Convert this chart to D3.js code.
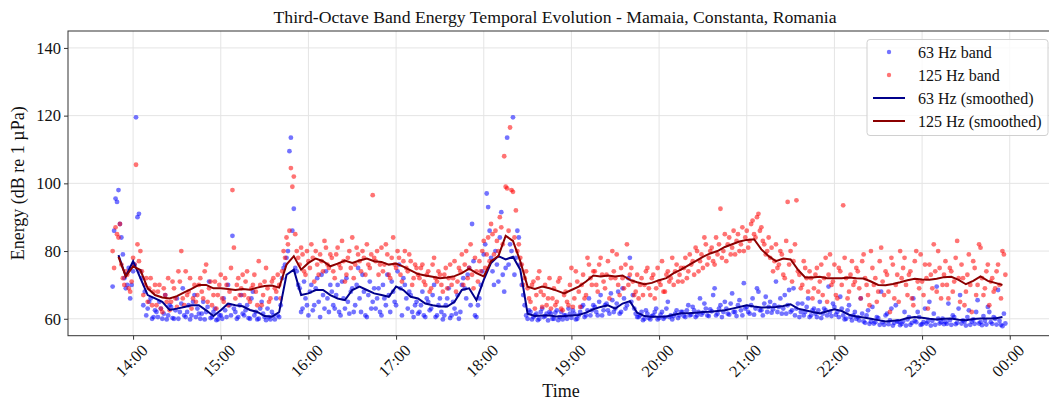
<!DOCTYPE html>
<html>
<head>
<meta charset="utf-8">
<script src="https://cdn.jsdelivr.net/npm/d3@7"></script>
<style>
  body { margin: 0; background: #fff; }
  svg { display: block; font-family: "Liberation Serif", "Times New Roman", serif; }
</style>
</head>
<body>
<svg id="chart" width="1049" height="402"></svg>
<script>
// scatter samples: one value per minute, starting 13:46 (each row = 30 min)
var scatterStart = "13:46";
var scatterStepMin = 1;

var band63 = [
  69.5, 86, 95.5, 94.5, 98, 88, 84, 79, 72, 69, 70, 75, 66, 70, 74, 76, 119.5, 90, 91, 74, 72, 64, 68, 61, 63, 65, 66, 60, 60.5, 62.5,
  62, 60.5, 65, 63, 60, 61.5, 67, 59.8, 61, 64, 63.5, 60.2, 60, 62.5, 66, 60, 62, 64.5, 69, 61, 60.5, 62, 64, 59.8, 61, 65, 67, 60.5, 63, 61.5,
  60, 61.5, 65, 59.8, 62, 63.5, 71, 60.2, 60.5, 62, 63, 59.6, 59.8, 61, 61, 60, 66, 62.5, 60.5, 70, 64, 61, 84.5, 63, 62, 60, 60.5, 64, 67, 61.5,
  61, 62.5, 64, 60.2, 60, 66, 68, 61, 62, 59.8, 60, 63, 65, 61.5, 60.5, 59.6, 63, 60.5, 59.8, 62, 61, 59.8, 66, 61, 60.5, 64, 72, 75, 76, 78,
  80, 109.5, 113.5, 86, 92.5, 75, 74, 70, 69, 62, 63, 71, 66, 64, 61, 68, 70, 62.5, 64, 69, 72, 65, 60.5, 73, 67, 63, 74, 66, 62, 70,
  68, 64, 63, 67, 70, 62, 61, 71, 66, 63, 72, 65, 61.5, 68, 69, 62, 64, 70, 75, 66, 62, 73, 68, 61, 60.5, 67, 71, 63, 65, 69,
  63, 66, 69, 62, 61, 70, 66, 64, 73, 67, 62, 71, 68, 65, 64, 74, 76, 69, 61, 72, 70, 66, 63, 68, 67, 62, 60.5, 64, 65, 61.5,
  62, 64, 68, 61, 60.5, 66, 65, 62.5, 63, 67, 70, 60.5, 61, 64, 66, 62, 59.8, 61, 64, 66, 69, 60.2, 61, 65, 63, 61.5, 67, 60, 62, 70,
  72, 69, 66, 73, 75, 64, 88, 77, 61, 60.5, 64, 66, 70, 74, 79, 82, 97, 93, 86, 78, 74, 70, 80, 76, 71, 84, 91.5, 73, 68, 75,
  113.5, 76, 82, 80, 119.5, 73, 78, 86, 84, 76, 70, 67, 64, 61, 60, 62.5, 62, 59.8, 60.5, 61, 61.5, 59.6, 60, 62, 63, 60.5, 60.8, 61.5, 59.5, 62,
  61.5, 60, 60, 61.8, 62.5, 59.6, 60.5, 62, 59.8, 61, 61, 60, 63, 61.5, 60.3, 62.5, 61.5, 59.8, 60, 61, 62, 63.5, 64, 60.5, 61, 62.5, 66, 61, 62.5, 64,
  63.5, 62, 61, 65, 67, 61, 62.5, 64, 64.5, 62.5, 61.5, 67.5, 65.5, 62, 63, 64.5, 68, 61.5, 62, 69, 66, 63, 64, 72, 78, 65, 67, 63, 61.5, 60.5,
  60.5, 61, 62, 59.6, 60, 62.5, 61.5, 60.2, 59.8, 60.8, 61, 62, 63, 59.8, 60.2, 61.2, 62, 60, 60.5, 63, 65, 60.5, 61, 59.8, 60.8, 61.5, 62.5, 60.2, 61, 62,
  62, 60.8, 60.5, 62.5, 64, 61, 61.2, 63.5, 62.5, 60.5, 61, 62, 66, 61.2, 61.8, 64.5, 63, 61, 60.8, 62.8, 62.2, 67, 69, 61, 61.5, 63, 64, 60.5, 62, 65,
  63, 61.5, 61.2, 64.5, 67.5, 62, 62, 60.8, 64, 65.5, 62.5, 61, 70.5, 63, 63.5, 62, 61.5, 64, 66, 61.2, 63, 69, 68, 62.5, 62.5, 61, 64.5, 66.5, 62, 63.5,
  65, 61.8, 62.8, 64, 71, 62, 63.5, 66, 61.5, 63, 67, 61.5, 64, 68.5, 62, 62.5, 69, 61, 63, 64.5, 60.5, 62, 64.5, 61, 62, 63.5, 66, 60.5, 61, 62.5,
  63, 61.5, 60.5, 62.5, 65, 60.2, 61.5, 63, 62.5, 61, 69.5, 62, 60.8, 64.5, 63.5, 61.2, 62, 60.5, 66.5, 63, 61, 59.8, 60, 62.5, 64, 60.5, 59.5, 61, 62, 60,
  60.5, 59.5, 66, 61.5, 59.2, 58.8, 61, 62.5, 58.5, 59.2, 63.5, 58.6, 59, 60.5, 60.2, 58.2, 68, 59, 58.2, 61, 61.5, 58.4, 59.5, 63, 58, 58.8, 64, 59.2, 59.2, 58.1,
  58.5, 59.2, 62, 58, 59.8, 60.5, 58.2, 58.8, 66, 59.4, 59, 62, 60.5, 58.2, 58.4, 59, 63, 58.6, 59.2, 65, 58, 59.4, 61.5, 58.2, 69.5, 60, 58.6, 59, 60, 58.4,
  59, 58.5, 64.5, 59.6, 58.2, 61, 60.5, 58.4, 58.8, 63, 67, 58.6, 59.5, 59.2, 58, 60.5, 62.5, 58.2, 59.2, 59.8, 58.5, 62, 65.5, 58.6, 59, 58.1, 60.8, 59.4, 58.3, 63.5,
  62, 59, 58.5, 60.5, 60, 58.3, 68.5, 59.4, 58.2, 57.8, 61.5, 58.6
];

var band125 = [
  80, 75, 87, 85, 84, 88, 76, 72, 70, 74, 73, 69, 68, 71, 78, 76, 105.5, 82, 77, 80, 74, 67, 70, 72, 65, 69, 72, 64, 68, 70,
  64, 68, 70, 63, 62, 69, 67, 65, 72, 62.5, 65, 71, 69, 66, 63.5, 74, 71, 80, 66, 64, 74, 67, 68, 72, 63, 66, 70, 65, 67, 70,
  72, 68, 66, 74, 76, 65, 69, 71, 64, 67, 71, 63, 67, 70, 73, 66, 65, 72, 70, 64, 68, 75, 98, 81, 66, 70, 72, 67, 69, 73,
  67, 71, 74, 66, 65, 69, 70, 73, 68, 64, 77, 70, 64, 67, 71, 75, 69, 65, 66, 71, 72, 69, 68, 73, 70, 66, 74, 80, 78, 84,
  82, 86, 104.5, 99, 102, 85, 80, 78, 76, 81, 79, 74, 73, 80, 77, 75, 82, 78, 71, 80, 76, 73, 79, 77, 74, 83, 81, 76, 75, 79,
  78, 74, 72, 79, 81, 76, 75, 83, 77, 71, 73, 78, 80, 75, 84, 72, 76, 81, 79, 77, 74, 80, 78, 73, 82, 76, 75, 79, 96.5, 78,
  77, 80, 73, 76, 81, 74, 76, 82, 79, 73, 72, 78, 84, 76, 75, 80, 78, 73, 71, 77, 80, 75, 74, 79, 77, 70, 72, 76, 75, 73,
  72, 75, 76, 71, 70, 73, 74, 68, 69, 76, 78, 72, 71, 74, 73, 70, 68, 73, 75, 69, 72, 76, 70, 72, 77, 68, 71, 75, 74, 79,
  70, 76, 80, 72, 75, 82, 73, 69, 78, 74, 71, 77, 74, 80, 83, 75, 79, 84, 77, 88, 85, 79, 86, 83, 80, 90, 87, 82, 108, 99,
  98.5, 86, 116.5, 98, 97.5, 84, 92, 80, 82, 78, 76, 70, 72, 74, 69, 66, 65, 70, 71, 63, 67, 72, 74, 68, 63.5, 67, 70, 64, 66, 72,
  63, 66, 69, 64, 65, 71, 72, 63, 62.5, 67, 68, 65, 64, 70, 75, 63.5, 66, 74, 71, 68, 63.5, 70, 73, 66, 67, 78, 76, 72, 70, 74,
  74, 70, 68, 76, 78, 73, 71, 69, 73, 77, 66, 72, 80, 74, 72, 79, 70, 67, 75, 72, 69, 76, 82, 70, 73, 75, 71, 67, 68, 73,
  66, 70, 72, 67, 70, 74, 75, 69, 67, 72, 73, 66, 69, 75, 71, 70, 77, 68, 68, 73, 74, 71, 72, 78, 70, 74, 76, 71, 73, 75,
  71, 75, 78, 72, 74, 79, 76, 77, 73, 81, 80, 74, 77, 79, 75, 84, 82, 76, 78, 80, 81, 77, 76, 84, 79, 82, 92.5, 78, 80, 85,
  77, 82, 84, 79, 81, 86, 79, 83, 85, 80, 82, 87, 80, 84, 86, 81, 83, 88, 89, 85, 84, 90, 91, 86, 87, 83, 82, 79, 80, 84,
  78, 81, 74, 77, 82, 75, 76, 80, 79, 73, 72, 83, 94.5, 76, 80, 71, 77, 82, 95, 74, 73, 69, 70, 77, 75, 72, 68, 74, 72, 66,
  69, 73, 75, 68, 71, 76, 67, 72, 78, 65, 73, 79, 70, 71, 76, 67, 66, 75, 74, 70, 93.5, 78, 72, 66, 68, 73, 77, 70, 71, 75,
  74, 69, 66, 77, 79, 72, 70, 67, 64, 80, 75, 70, 72, 65, 68, 77, 81, 71, 67, 74, 73, 68, 62, 78, 76, 66, 70, 73, 65, 80,
  72, 75, 78, 70, 67, 73, 74, 66, 64, 77, 80, 71, 69, 79, 71, 67, 76, 72, 63, 76, 73, 69, 82, 74, 68, 80, 75, 66, 70, 73,
  77, 70, 66, 75, 74, 68, 71, 78, 83, 72, 65, 76, 72, 64, 68, 73, 79, 70, 62, 77, 75, 67, 70, 82, 81, 72, 67, 69, 74, 76,
  64, 71, 72, 68, 69, 74, 76, 70, 66, 80, 79, 73
];

// smoothed curves: one value every 5 minutes, starting 13:50
var smoothStart = "13:50";
var smoothStepMin = 5;

var smooth63 = [
  78.8, 72.5, 77, 72, 67, 66, 65, 62.6, 63, 63.5, 64, 64,
  62.5, 60.8, 62.5, 64.5, 64, 63.7, 62.6, 62, 60.8, 60.6, 62, 73,
  74.5, 67, 67.5, 68.5, 68.5, 67, 66, 65.5, 68.5, 69.5, 68.5, 67.5,
  67, 66.5, 69.5, 68.5, 66.5, 66, 64.5, 64, 63.6, 63.6, 65, 68.5,
  69, 65.5, 71.5, 76.5, 78.5, 77.5, 78.3, 74.5, 61.5, 60.8, 61, 61,
  60.7, 60.8, 61, 61.1, 61.8, 62.8, 63.5, 64, 63, 64.5, 65.2, 61.8,
  60.8, 60.6, 60.6, 60.7, 61.2, 61.6, 61.6, 61.8, 62, 62.1, 62.3, 62.5,
  63, 63.5, 64, 63.6, 63.3, 63.4, 63.5, 63.8, 64.3, 63, 62.5, 62,
  61.6, 62.2, 62.8, 62.3, 61.2, 60.7, 60.4, 60, 59.6, 59.2, 59.4, 59.6,
  60.2, 60.5, 60.3, 60, 59.8, 60, 60.1, 59.7, 59.6, 59.9, 60.1, 60.1,
  60.1, 60.5
];

var smooth125 = [
  78.3, 72.5, 75.5, 74.4, 69, 67, 66.3, 66, 66.7, 67.8, 68.8, 70,
  70, 69, 69, 68.8, 68.5, 68.8, 68.6, 69.2, 69.7, 69.8, 69.2, 76,
  78.5, 74.5, 76.5, 77.8, 77, 75.5, 76.3, 77.2, 76.5, 77.2, 77.8, 77,
  76.8, 76, 76.3, 75.4, 74.3, 73.2, 72.8, 72.4, 72, 72.2, 72.6, 73.5,
  74.8, 73.5, 72.5, 77, 78.5, 84.5, 83, 77, 69.5, 68.8, 69.5, 69,
  68.3, 67.5, 68.5, 69.5, 71, 72.8, 72.5, 72.8, 72.5, 72.8, 71.5, 70.8,
  70.2, 70.6, 71.4, 72, 73.5, 74.5, 75.8, 77, 78.3, 79.3, 80, 81.2,
  82, 82.8, 83.3, 83.5, 80.5, 78.5, 77, 77.8, 77.5, 74.5, 72.2, 72.2,
  72.4, 72, 72, 72, 72.2, 72, 71.9, 71, 70, 69.9, 70.3, 70.8,
  71.4, 71.8, 71.6, 71.5, 71.8, 72.3, 72.4, 71.5, 70.2, 71.2, 72.5, 71.2,
  70.6, 70
];

var yTicks = [60, 80, 100, 120, 140];
var titleText = "Third-Octave Band Energy Temporal Evolution - Mamaia, Constanta, Romania";

var parseHM = d3.timeParse("%Y-%m-%d %H:%M");
function seriesTimes(start, step, n) {
  var t0 = parseHM("2024-06-01 " + start);
  return d3.range(n).map(function(i){ return d3.timeMinute.offset(t0, i * step); });
}

var tScatter = seriesTimes(scatterStart, scatterStepMin, band63.length);
var tSmooth = seriesTimes(smoothStart, smoothStepMin, smooth63.length);

var pts63 = band63.map(function(v,i){ return {t: tScatter[i], v: v}; });
var pts125 = band125.map(function(v,i){ return {t: tScatter[i], v: v}; });
var line63 = smooth63.map(function(v,i){ return {t: tSmooth[i], v: v}; });
var line125 = smooth125.map(function(v,i){ return {t: tSmooth[i], v: v}; });

var pL = 68, pR = 1050, pT = 31, pB = 335.7;

// matplotlib-like 5% margin around the data
var ext = d3.extent(tScatter);
var pad = (ext[1] - ext[0]) * 0.05;
var x = d3.scaleTime()
  .domain([new Date(+ext[0] - pad), new Date(+ext[1] + pad)])
  .range([pL, pR]);
var y = d3.scaleLinear().domain([55, 145]).range([pB, pT]);

var svg = d3.select("#chart");

var xTickVals = d3.timeHour.range(d3.timeHour.ceil(x.domain()[0]), x.domain()[1]);

// grid
var grid = svg.append("g");
grid.selectAll(".gx").data(xTickVals).enter().append("line")
  .attr("x1", function(d){ return x(d); }).attr("x2", function(d){ return x(d); })
  .attr("y1", pT).attr("y2", pB)
  .attr("stroke", "#e4e4e4").attr("stroke-width", 1);
grid.selectAll(".gy").data(yTicks).enter().append("line")
  .attr("x1", pL).attr("x2", pR)
  .attr("y1", function(d){ return y(d); }).attr("y2", function(d){ return y(d); })
  .attr("stroke", "#e4e4e4").attr("stroke-width", 1);

// scatter
var plot = svg.append("g");
plot.selectAll(".p63").data(pts63).enter().append("circle")
  .attr("cx", function(d){ return x(d.t); }).attr("cy", function(d){ return y(d.v); })
  .attr("r", 2.4).attr("fill", "#0000ff").attr("fill-opacity", 0.55);
plot.selectAll(".p125").data(pts125).enter().append("circle")
  .attr("cx", function(d){ return x(d.t); }).attr("cy", function(d){ return y(d.v); })
  .attr("r", 2.4).attr("fill", "#ff0000").attr("fill-opacity", 0.55);

var lineGen = d3.line().x(function(d){ return x(d.t); }).y(function(d){ return y(d.v); });
plot.append("path").datum(line63).attr("d", lineGen)
  .attr("fill", "none").attr("stroke", "#00008b").attr("stroke-width", 2);
plot.append("path").datum(line125).attr("d", lineGen)
  .attr("fill", "none").attr("stroke", "#8b0000").attr("stroke-width", 2);

// axes
var xAxis = svg.append("g").attr("transform", "translate(0," + pB + ")")
  .call(d3.axisBottom(x).tickValues(xTickVals).tickFormat(d3.timeFormat("%H:%M")).tickSize(4).tickSizeOuter(0));
xAxis.attr("font-family", null).attr("font-size", null);
xAxis.select(".domain").remove();
xAxis.selectAll("line").attr("stroke", "#333");
xAxis.selectAll("text")
  .attr("font-size", "16.5px").attr("fill", "#111")
  .attr("text-anchor", "middle").attr("dominant-baseline", "central")
  .attr("x", 0).attr("y", 0).attr("dy", null)
  .attr("transform", "translate(-2,25) rotate(-45)");

var yAxis = svg.append("g").attr("transform", "translate(" + pL + ",0)")
  .call(d3.axisLeft(y).tickValues(yTicks).tickSize(4).tickPadding(3));
yAxis.attr("font-family", null).attr("font-size", null);
yAxis.select(".domain").remove();
yAxis.selectAll("line").attr("stroke", "#333");
yAxis.selectAll("text").attr("font-size", "16.5px").attr("fill", "#111");

svg.append("rect").attr("x", pL).attr("y", pT)
  .attr("width", pR - pL).attr("height", pB - pT)
  .attr("fill", "none").attr("stroke", "#333").attr("stroke-width", 1);

// labels
svg.append("text").attr("x", 555).attr("y", 23).attr("text-anchor", "middle")
  .attr("font-size", "17.7px").attr("fill", "#111").text(titleText);
svg.append("text").attr("x", 561).attr("y", 397).attr("text-anchor", "middle")
  .attr("font-size", "18px").attr("fill", "#111").text("Time");
svg.append("text").attr("transform", "translate(24," + ((pT + pB) / 2) + ") rotate(-90)")
  .attr("text-anchor", "middle").attr("font-size", "18px").attr("fill", "#111")
  .text("Energy (dB re 1 µPa)");

// legend
var lg = svg.append("g");
lg.append("rect").attr("x", 867).attr("y", 39.5).attr("width", 181).attr("height", 96)
  .attr("rx", 3).attr("fill", "#fff").attr("fill-opacity", 0.8)
  .attr("stroke", "#d0d0d0");
var items = [
  {label: "63 Hz band", kind: "dot", color: "#0000ff"},
  {label: "125 Hz band", kind: "dot", color: "#ff0000"},
  {label: "63 Hz (smoothed)", kind: "line", color: "#00008b"},
  {label: "125 Hz (smoothed)", kind: "line", color: "#8b0000"}
];
items.forEach(function(it, i){
  var cy = 52 + i * 23;
  if (it.kind === "dot") {
    lg.append("circle").attr("cx", 889).attr("cy", cy).attr("r", 2.2)
      .attr("fill", it.color).attr("fill-opacity", 0.55);
  } else {
    lg.append("line").attr("x1", 873).attr("x2", 905).attr("y1", cy).attr("y2", cy)
      .attr("stroke", it.color).attr("stroke-width", 2);
  }
  lg.append("text").attr("x", 918).attr("y", cy).attr("dominant-baseline", "central")
    .attr("font-size", "16px").attr("fill", "#111").text(it.label);
});
</script>
</body>
</html>
